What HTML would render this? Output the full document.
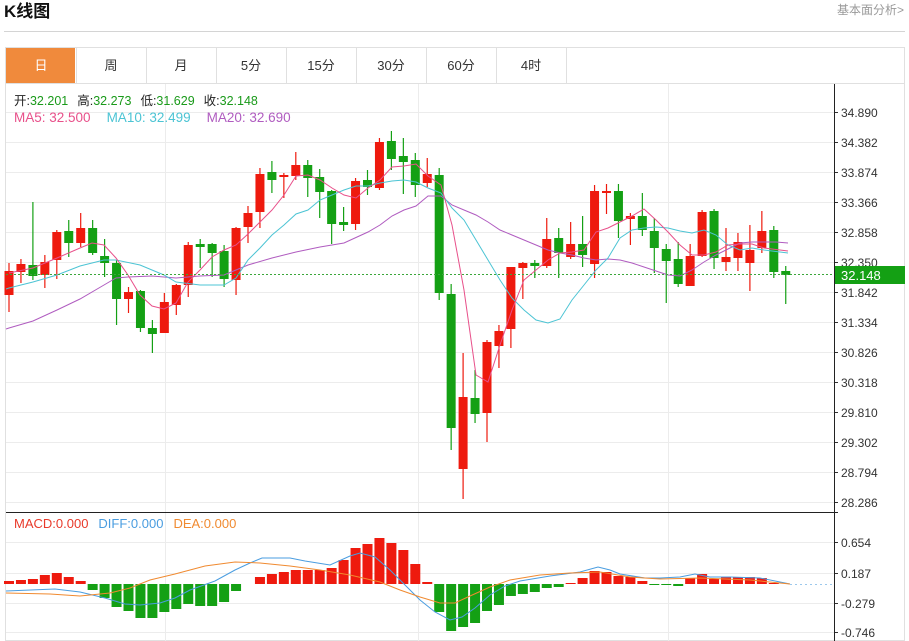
<!DOCTYPE html>
<html><head><meta charset="utf-8"><style>
body{margin:0;background:#fff;font-family:"Liberation Sans","Noto Sans CJK SC",sans-serif;}
#w{position:relative;width:909px;height:641px;overflow:hidden;}
</style></head><body><div id="w">
<svg id="s" width="909" height="641" xmlns="http://www.w3.org/2000/svg" font-family="Liberation Sans, Noto Sans CJK SC, sans-serif"></svg>
</div>
<script>
const S=document.getElementById('s');let h='';
h+='<text x="4" y="17" font-size="17" font-weight="bold" fill="#111">K线图</text>';
h+='<text x="904" y="14" font-size="12" fill="#999" text-anchor="end">基本面分析&gt;</text>';
h+='<line x1="4" y1="31.5" x2="905" y2="31.5" stroke="#d4d4d4"/>';
h+='<rect x="5.5" y="47.5" width="899" height="593" fill="none" stroke="#e0e0e0"/>';
h+='<line x1="5" y1="83.5" x2="905" y2="83.5" stroke="#e0e0e0"/>';
const tabs=['日','周','月','5分','15分','30分','60分','4时'];
tabs.forEach((t,i)=>{const x=6+i*70;
 if(i==0)h+=`<rect x="6" y="48" width="69" height="35" fill="#f08a3c"/>`;
 h+=`<line x1="${x+70.5}" y1="48" x2="${x+70.5}" y2="83" stroke="#e0e0e0"/>`;
 h+=`<text x="${x+35}" y="70" font-size="13" text-anchor="middle" fill="${i==0?'#fff':'#333'}">${t}</text>`;});
const P=[34.890,34.382,33.874,33.366,32.858,32.350,31.842,31.334,30.826,30.318,29.810,29.302,28.794,28.286];
P.forEach((p,i)=>{const y=112+i*30;h+=`<line x1="6" y1="${y+.5}" x2="834" y2="${y+.5}" stroke="#ececec"/><line x1="834" y1="${y+.5}" x2="838" y2="${y+.5}" stroke="#333"/><text x="841" y="${y+5}" font-size="12" fill="#333">${p.toFixed(3)}</text>`;});
[165,418,668].forEach(x=>h+=`<line x1="${x+.5}" y1="84" x2="${x+.5}" y2="641" stroke="#ececec"/>`);
const MP=[[0.654,542],[0.187,573],[-0.279,603],[-0.746,632]];
MP.forEach(([p,y])=>{h+=`<line x1="6" y1="${y+.5}" x2="834" y2="${y+.5}" stroke="#ececec"/><line x1="834" y1="${y+.5}" x2="838" y2="${y+.5}" stroke="#333"/><text x="841" y="${y+5}" font-size="12" fill="#333">${p.toFixed(3)}</text>`;});
h+='<line x1="6" y1="512.5" x2="838" y2="512.5" stroke="#222"/>';
h+='<line x1="834.5" y1="84" x2="834.5" y2="641" stroke="#222"/>';
const C=[[271,295,263,312,'r'],[264,272,259,283,'r'],[265,276,202,280,'g'],[262,275,255,288,'r'],[232,260,230,279,'r'],[231,243,220,257,'g'],[228,243,213,247,'r'],[228,253,220,255,'g'],[256,263,239,277,'g'],[263,299,260,325,'g'],[292,299,287,313,'r'],[291,328,290,332,'g'],[328,334,320,353,'g'],[302,333,293,333,'r'],[285,305,284,315,'r'],[245,285,242,297,'r'],[244,247,239,268,'g'],[244,253,243,277,'g'],[251,279,245,287,'g'],[228,280,227,295,'r'],[213,227,206,243,'r'],[174,212,168,228,'r'],[172,180,161,193,'g'],[175,177,173,198,'r'],[165,176,152,180,'r'],[165,178,160,197,'g'],[177,192,169,218,'g'],[191,224,190,244,'g'],[222,225,207,231,'g'],[181,224,178,230,'r'],[180,187,170,195,'g'],[142,188,138,190,'r'],[141,159,131,170,'g'],[156,162,138,194,'g'],[160,185,153,197,'g'],[174,183,158,187,'r'],[175,293,168,300,'g'],[294,428,284,450,'g'],[397,469,353,499,'r'],[398,414,370,423,'g'],[342,413,340,442,'r'],[331,346,325,368,'r'],[267,329,267,348,'r'],[263,268,262,299,'r'],[263,266,260,278,'g'],[239,266,218,268,'r'],[238,253,228,278,'g'],[244,257,222,259,'r'],[244,255,216,267,'g'],[191,264,185,278,'r'],[191,193,184,214,'r'],[191,221,184,238,'g'],[216,219,213,245,'r'],[216,230,193,236,'g'],[231,248,218,273,'g'],[249,261,244,303,'g'],[259,284,242,287,'g'],[256,286,244,286,'r'],[212,256,210,257,'r'],[211,258,209,269,'g'],[257,262,228,271,'r'],[242,258,233,271,'r'],[250,263,225,291,'r'],[231,248,211,253,'r'],[230,272,226,278,'g'],[271,275,266,304,'g']];
const R='#ee1a0e',G='#14a014';
C.forEach((c,i)=>{const x=9+11.95*i;const col=c[4]=='r'?R:G;
 h+=`<line x1="${x}" y1="${c[2]}" x2="${x}" y2="${c[3]}" stroke="${col}" stroke-width="1.2"/>`;
 h+=`<rect x="${x-4.5}" y="${c[0]}" width="9" height="${Math.max(2,c[1]-c[0])}" fill="${col}"/>`;});
const pl=(pts,col)=>h+=`<polyline points="${pts.map(p=>p.join(',')).join(' ')}" fill="none" stroke="${col}" stroke-width="1"/>`;
pl([[6,329],[9,328],[33,321],[57,310],[80,299],[104,285],[116,278],[128,277],[152,276],[176,278],[200,276],[224,275],[236,270],[248,265],[272,258],[296,252],[320,247],[344,243],[368,232],[380,225],[392,216],[404,210],[416,206],[428,196],[441,196],[452,205],[464,210],[476,215],[488,222],[500,230],[512,235],[524,240],[536,245],[548,250],[560,253],[572,255],[584,258],[596,260],[608,259],[620,260],[632,263],[644,267],[656,271],[668,275],[680,276],[692,270],[704,262],[716,255],[728,249],[740,243],[752,242],[764,242],[776,242],[788,243]],'#b05cc0');
pl([[6,289],[9,288],[33,282],[57,275],[80,266],[104,260],[116,260],[140,265],[164,275],[176,282],[200,285],[224,285],[236,278],[248,260],[260,248],[272,235],[284,225],[296,214],[308,210],[320,200],[332,195],[344,190],[356,186],[368,186],[380,183],[392,181],[404,180],[416,182],[428,188],[441,193],[452,208],[464,220],[476,240],[488,260],[500,280],[512,298],[524,310],[536,320],[548,323],[560,319],[572,300],[584,285],[596,270],[608,258],[620,238],[632,230],[644,228],[656,227],[668,228],[680,231],[692,233],[704,230],[716,235],[728,245],[740,250],[752,248],[764,250],[788,253]],'#4cc4d4');
pl([[9,273],[33,268],[57,258],[80,248],[92,243],[104,245],[116,258],[128,275],[140,295],[152,306],[164,309],[176,303],[188,282],[200,270],[212,257],[224,250],[236,245],[248,234],[260,222],[272,210],[284,195],[296,176],[308,175],[320,180],[332,188],[344,195],[356,198],[368,188],[380,180],[392,167],[404,166],[416,164],[428,176],[441,185],[452,225],[464,290],[476,375],[488,382],[500,345],[512,310],[524,280],[536,270],[548,260],[560,253],[572,252],[584,250],[596,232],[608,228],[620,222],[632,216],[644,209],[656,220],[668,232],[680,245],[692,255],[704,255],[716,252],[728,245],[740,244],[752,244],[764,248],[788,251]],'#e8508a');
h+='<line x1="6" y1="274.5" x2="834" y2="274.5" stroke="#3aa63a" stroke-dasharray="2,2"/>';
h+='<rect x="835" y="266" width="70" height="18" fill="#14a014"/><text x="841" y="280" font-size="13" fill="#fff">32.148</text>';
h+='<text x="14" y="105" font-size="12.5"><tspan fill="#222">开:</tspan><tspan fill="#1a9a1a">32.201</tspan><tspan fill="#222" dx="9">高:</tspan><tspan fill="#1a9a1a">32.273</tspan><tspan fill="#222" dx="9">低:</tspan><tspan fill="#1a9a1a">31.629</tspan><tspan fill="#222" dx="9">收:</tspan><tspan fill="#1a9a1a">32.148</tspan></text>';
h+='<text x="14" y="122" font-size="13.5"><tspan fill="#e8508a">MA5: 32.500</tspan><tspan fill="#4cc4d4" dx="16">MA10: 32.499</tspan><tspan fill="#b05cc0" dx="16">MA20: 32.690</tspan></text>';
h+='<text x="14" y="528" font-size="13"><tspan fill="#e83a2a">MACD:0.000</tspan><tspan fill="#4a9de0" dx="10">DIFF:0.000</tspan><tspan fill="#f08a30" dx="10">DEA:0.000</tspan></text>';
const Z=584;
const M=[581,580,579,575,573,577,581,590,598,607,611,618,618,612,609,604,606,606,602,591,584,577,574,572,570,570,570,568,560,548,544,538,543,550,564,582,612,631,627,623,611,605,596,594,592,588,587,583,578,571,572,576,577,581,585,585,586,578,574,579,577,577,577,578,583,584];
M.forEach((v,i)=>{const x=9+11.95*i;const up=v<Z;const t=Math.min(v,Z),b=Math.max(v,Z);
 if(b-t<0.5)return;h+=`<rect x="${x-5}" y="${t}" width="10" height="${b-t}" fill="${up?R:G}"/>`;});
h+='<line x1="790" y1="584.5" x2="834" y2="584.5" stroke="#9cc8ec" stroke-dasharray="2,3"/>';
pl([[6,591],[55,589],[80,592],[105,598],[125,604],[140,605],[160,603],[175,598],[190,590],[215,581],[235,570],[250,563],[262,558],[290,558],[305,561],[330,565],[350,556],[360,553],[375,557],[390,570],[405,585],[420,600],[435,612],[450,620],[462,617],[475,608],[490,595],[505,586],[520,581],[550,576],[580,572],[598,567],[610,570],[620,574],[645,578],[660,578],[680,577],[695,574],[710,577],[730,577],[760,578],[790,584]],'#4a9de0');
pl([[6,593],[50,594],[80,596],[110,593],[130,588],[150,580],[175,574],[205,566],[235,562],[260,563],[290,566],[320,570],[350,575],[380,582],[400,590],[420,597],[440,603],[455,603],[470,596],[490,587],[510,580],[540,575],[570,573],[600,572],[630,577],[660,579],[700,578],[750,580],[790,584]],'#f08a30');
S.innerHTML=h;
</script></body></html>
